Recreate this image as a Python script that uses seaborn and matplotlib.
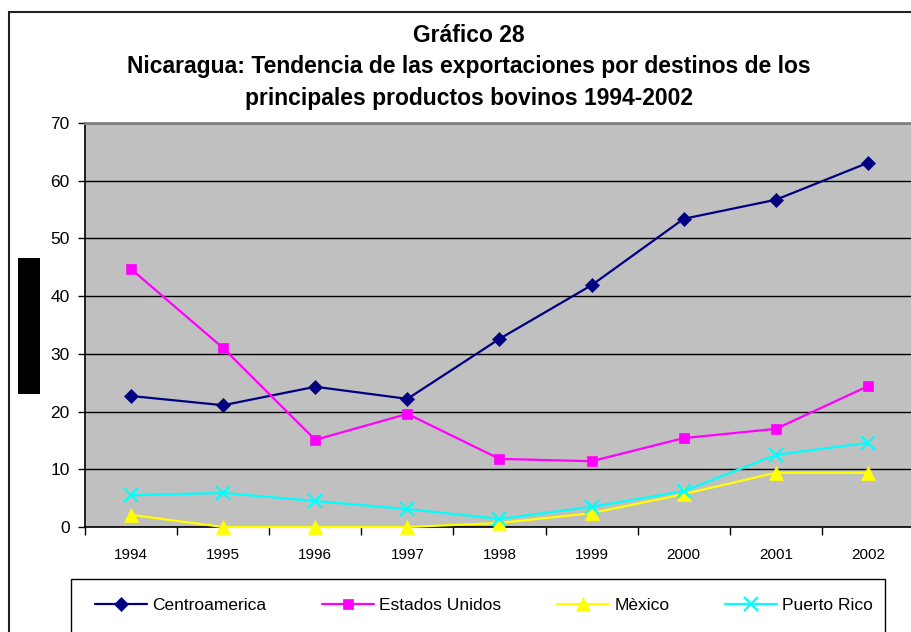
import numpy as np
import pandas as pd
import matplotlib
matplotlib.use("Agg")
import matplotlib.pyplot as plt
from matplotlib.patches import Rectangle
import seaborn as sns

# values
years = ["1994", "1995", "1996", "1997", "1998", "1999", "2000", "2001", "2002"]
centroamerica = [22.7, 21.1, 24.3, 22.2, 32.6, 41.9, 53.4, 56.7, 63.1]
estados_unidos = [44.7, 31.0, 15.1, 19.6, 11.8, 11.4, 15.4, 17.0, 24.4]
mexico = [2.1, 0.0, 0.0, 0.0, 0.7, 2.4, 5.7, 9.4, 9.4]
puerto_rico = [5.5, 5.9, 4.5, 3.1, 1.4, 3.5, 6.2, 12.5, 14.6]
series_names = ["Centroamerica", "Estados Unidos", "Mèxico", "Puerto Rico"]
y_ticks = [0, 10, 20, 30, 40, 50, 60, 70]

colors = ["#000080", "#FF00FF", "#FFFF00", "#00FFFF"]
markers = ["D", "s", "^", "x"]
msizes = [7.5, 7.5, 9.5, 10]

df = pd.DataFrame({
    "year": years * 4,
    "value": centroamerica + estados_unidos + mexico + puerto_rico,
    "destino": np.repeat(series_names, len(years)),
})

sns.set_theme(style="white")
plt.rcParams["font.family"] = ["Liberation Sans", "DejaVu Sans"]
plt.rcParams["text.color"] = "black"
plt.rcParams["xtick.color"] = "black"
plt.rcParams["ytick.color"] = "black"
plt.rcParams["axes.labelcolor"] = "black"

W, H = 912, 632
fig = plt.figure(figsize=(W / 100, H / 100), dpi=100)

# outer chart frame (clipped by the picture on right/bottom)
fig.patches.append(Rectangle((9 / W, -0.1), 1.2, (H - 12) / H + 0.1, transform=fig.transFigure,
                             fill=False, ec="#222222", lw=1.5, zorder=0))
# black block left of the axis
fig.patches.append(Rectangle((18 / W, 1 - 394 / H), 22 / W, 136 / H, transform=fig.transFigure,
                             fc="black", ec="none"))

ax = fig.add_axes([85 / W, 105 / H, 829 / W, 404 / H])
ax.set_facecolor("#C0C0C0")

sns.lineplot(data=df, x="year", y="value", hue="destino", palette=colors,
             sort=False, ax=ax, linewidth=1.6, legend=False)

for line, mk, ms, col in zip(ax.lines, markers, msizes, colors):
    line.set_marker(mk)
    line.set_markersize(ms)
    line.set_markerfacecolor(col)
    line.set_markeredgecolor(col)
    line.set_markeredgewidth(1.6 if mk == "x" else 0.5)
    line.set_clip_on(False)
    line.set_zorder(3)

ax.set_xlim(-0.5, len(years) - 0.5)
ax.set_ylim(0, 70)
ax.set_yticks(y_ticks)
ax.set_xticks(np.arange(len(years) + 1) - 0.5)
ax.set_xticklabels([])
ax.set_xticks(np.arange(len(years)), minor=True)
ax.set_xticklabels(years, minor=True)
ax.tick_params(axis="x", which="major", direction="out", length=6, width=1, color="black", bottom=True)
ax.tick_params(axis="x", which="minor", length=0, pad=15, labelsize=11, bottom=True)
ax.tick_params(axis="y", direction="out", length=5, width=1, color="black", pad=6, labelsize=12.5, left=True)
ax.set_xlabel("")
ax.set_ylabel("")
ax.grid(axis="y", color="black", lw=1)
ax.set_axisbelow(True)
for s in ["left", "bottom"]:
    ax.spines[s].set_color("black")
    ax.spines[s].set_linewidth(1.2)
ax.spines["top"].set_color("#808080")
ax.spines["top"].set_linewidth(2)
ax.spines["right"].set_visible(False)

# titles
title_x = 469 / W
fig.text(title_x, 1 - 35 / H, "Gráfico 28", ha="center", va="center", fontsize=16.5, fontweight="bold")
fig.text(title_x, 1 - 67 / H, "Nicaragua: Tendencia de las exportaciones por destinos de los",
         ha="center", va="center", fontsize=16.5, fontweight="bold")
fig.text(title_x, 1 - 98 / H, "principales productos bovinos 1994-2002",
         ha="center", va="center", fontsize=16.5, fontweight="bold")

# legend box + legend
fig.patches.append(Rectangle((71 / W, -0.05), (885 - 71) / W, (H - 579) / H + 0.05,
                             transform=fig.transFigure, fill=False, ec="black", lw=1))
fig.legend(ax.lines[:4], series_names, loc="center", bbox_to_anchor=(484 / W, 1 - 605 / H),
           ncol=4, frameon=False, fontsize=12.5, handlelength=3.0, handletextpad=0.3,
           columnspacing=3.2)

fig.savefig("out.png", dpi=100)
